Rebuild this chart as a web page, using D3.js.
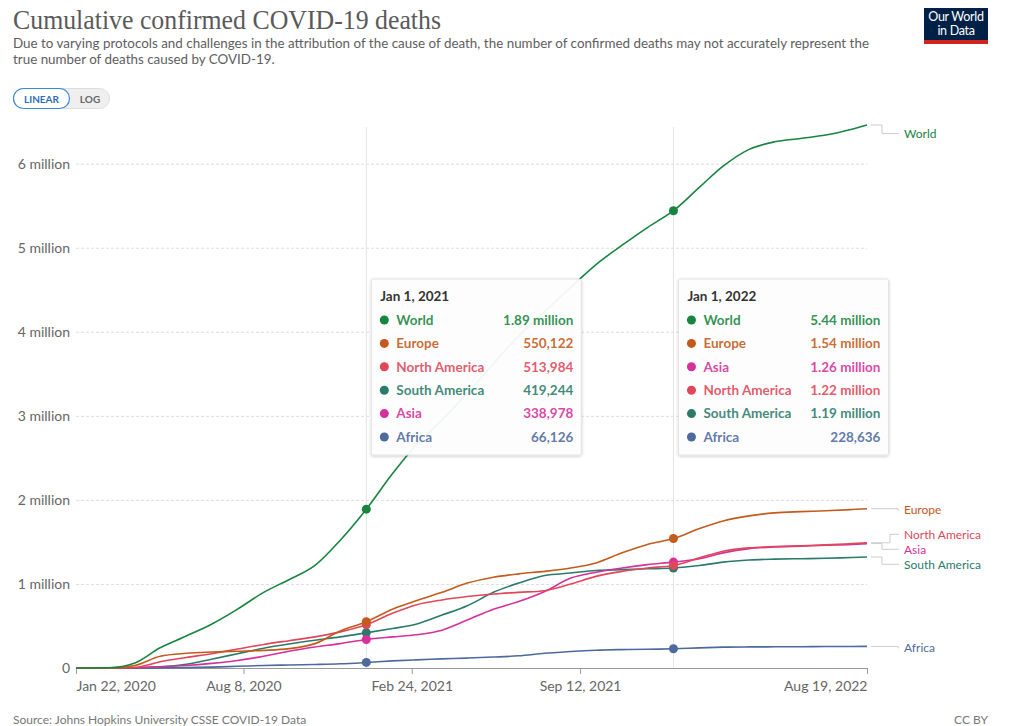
<!DOCTYPE html>
<html>
<head>
<meta charset="utf-8">
<script src="https://cdn.jsdelivr.net/npm/d3@7"></script>
<style>
  html, body { margin: 0; padding: 0; background: #fff; }
  svg { display: block; font-family: Lato, "Noto Sans", sans-serif; }
</style>
</head>
<body>
<script>
// ---------------- DATA ----------------
const dates = ["2020-01-22","2020-02-01","2020-03-01","2020-04-01","2020-05-01","2020-06-01","2020-07-01","2020-08-01","2020-09-01","2020-10-01","2020-11-01","2020-12-01",
  "2021-01-01","2021-02-01","2021-03-01","2021-04-01","2021-05-01","2021-06-01","2021-07-01","2021-08-01","2021-09-01","2021-10-01","2021-11-01","2021-12-01",
  "2022-01-01","2022-02-01","2022-03-01","2022-04-01","2022-05-01","2022-06-01","2022-07-01","2022-08-01","2022-08-19"];

const world = [17,260,3000,60000,240000,380000,520000,700000,900000,1050000,1220000,1520000,
  1890000,2310000,2650000,2950000,3270000,3620000,3950000,4240000,4530000,4800000,5030000,5240000,
  5440000,5720000,5970000,6170000,6260000,6300000,6340000,6410000,6460000];
const europe = [0,0,30,30000,140000,175000,190000,200000,210000,230000,290000,440000,
  550122,700000,800000,900000,1010000,1080000,1120000,1150000,1190000,1250000,1370000,1470000,
  1540000,1660000,1750000,1810000,1845000,1860000,1870000,1885000,1895000];
const northAmerica = [0,0,1,6000,75000,125000,170000,225000,280000,325000,370000,430000,
  513984,650000,750000,810000,850000,880000,900000,920000,1000000,1090000,1150000,1190000,
  1220000,1310000,1390000,1430000,1445000,1455000,1465000,1480000,1490000];
const southAmerica = [0,0,0,500,10000,45000,105000,170000,235000,285000,330000,370000,
  419244,470000,520000,630000,740000,900000,1010000,1100000,1130000,1160000,1170000,1180000,
  1190000,1220000,1260000,1285000,1295000,1300000,1305000,1315000,1320000];
const asia = [17,260,2900,5000,15000,30000,55000,90000,140000,200000,250000,290000,
  338978,370000,395000,450000,570000,700000,790000,910000,1070000,1140000,1190000,1230000,
  1260000,1300000,1370000,1420000,1440000,1450000,1460000,1470000,1480000];
const africa = [0,0,0,200,1800,4600,10000,20000,30000,36000,42000,50000,
  66126,85000,97000,108000,118000,130000,145000,175000,197000,212000,219000,223000,
  228636,240000,248000,251000,252000,253000,255000,256000,257000];

const seriesNames = ["World","Europe","North America","South America","Asia","Africa"];
const seriesValues = [world, europe, northAmerica, southAmerica, asia, africa];
const seriesColors = ["#17853f","#c45a1b","#e0475a","#2b7b6b","#d6309a","#4d6a9d"];

const xTickDates = ["2020-01-22","2020-08-08","2021-02-24","2021-09-12","2022-08-19"];
const yTicks = [0,1000000,2000000,3000000,4000000,5000000,6000000];
const highlightDates = ["2021-01-01","2022-01-01"];

const titleText = "Cumulative confirmed COVID-19 deaths";
const subtitleLines = ["Due to varying protocols and challenges in the attribution of the cause of death, the number of confirmed deaths may not accurately represent the",
  "true number of deaths caused by COVID-19."];
const sourceText = "Source: Johns Hopkins University CSSE COVID-19 Data";

// ---------------- SETUP ----------------
const parse = d3.utcParse("%Y-%m-%d");
const fmtDate = d3.utcFormat("%b %-d, %Y");
const W = 1024, H = 726;
const svg = d3.select("body").append("svg").attr("width", W).attr("height", H);

const defs = svg.append("defs");
const f = defs.append("filter").attr("id","shadow").attr("x","-10%").attr("y","-10%").attr("width","120%").attr("height","125%");
f.append("feDropShadow").attr("dx",0).attr("dy",1).attr("stdDeviation",1.5).attr("flood-color","#000").attr("flood-opacity",0.22);

const x = d3.scaleUtc().domain([parse(dates[0]), parse(dates[dates.length-1])]).range([76, 867]);
const y = d3.scaleLinear().domain([0, d3.max(world)]).range([668, 125]);

const series = seriesNames.map((name, i) => ({
  name, color: seriesColors[i],
  values: dates.map((d, j) => ({date: parse(d), value: seriesValues[i][j]}))
}));

// ---------------- HEADER ----------------
svg.append("text").attr("x", 13).attr("y", 29).text(titleText)
  .attr("font-family", "'Liberation Serif', 'DejaVu Serif', serif")
  .attr("font-size", 27).attr("fill", "#5a5a5a")
  .attr("textLength", 428).attr("lengthAdjust", "spacingAndGlyphs");

subtitleLines.forEach((t, i) => {
  const st = svg.append("text").attr("x", 13).attr("y", 48 + i * 16).text(t)
    .attr("font-size", 13.4).attr("fill", "#5e5e5e");
  if (i === 0) st.attr("textLength", 856).attr("lengthAdjust", "spacing");
});

// logo
const logo = svg.append("g");
logo.append("rect").attr("x", 924).attr("y", 8).attr("width", 64).attr("height", 36).attr("fill", "#002147");
logo.append("rect").attr("x", 924).attr("y", 40).attr("width", 64).attr("height", 4).attr("fill", "#ce261e");
logo.append("text").attr("x", 956).attr("y", 21).attr("text-anchor", "middle").attr("fill", "#fff").attr("font-size", 12.5).attr("letter-spacing", -0.3).text("Our World");
logo.append("text").attr("x", 956).attr("y", 35).attr("text-anchor", "middle").attr("fill", "#fff").attr("font-size", 12.5).attr("letter-spacing", -0.3).text("in Data");

// linear / log toggle
const tg = svg.append("g");
tg.append("rect").attr("x", 13.5).attr("y", 88.5).attr("width", 96).attr("height", 20).attr("rx", 10)
  .attr("fill", "#efefef").attr("stroke", "#ddd");
tg.append("rect").attr("x", 13.5).attr("y", 88.5).attr("width", 56).attr("height", 20).attr("rx", 10)
  .attr("fill", "#fff").attr("stroke", "#3a8ad8").attr("stroke-width", 1.2);
tg.append("text").attr("x", 41.5).attr("y", 102.5).attr("text-anchor", "middle").attr("font-size", 10)
  .attr("font-weight", 700).attr("fill", "#2f6db5").text("LINEAR");
tg.append("text").attr("x", 90).attr("y", 102.5).attr("text-anchor", "middle").attr("font-size", 10)
  .attr("font-weight", 700).attr("fill", "#666").text("LOG");

// ---------------- AXES ----------------
const yAxis = d3.axisLeft(y).tickValues(yTicks)
  .tickFormat(d => d === 0 ? "0" : (d / 1e6) + " million")
  .tickSize(-(867 - 76)).tickPadding(6);
const yg = svg.append("g").attr("transform", "translate(76,0)").call(yAxis);
yg.select(".domain").remove();
yg.selectAll(".tick line").attr("stroke", "#ddd").attr("stroke-dasharray", "3,2")
  .filter(d => d === 0).remove();
yg.selectAll(".tick text").attr("font-size", 14).attr("fill", "#666").attr("font-family", "Lato");

// hover vertical lines
svg.selectAll(".vline").data(highlightDates).enter().append("line")
  .attr("x1", d => x(parse(d))).attr("x2", d => x(parse(d)))
  .attr("y1", 127).attr("y2", 668).attr("stroke", "#e3e3e3").attr("stroke-width", 1);

const xAxis = d3.axisBottom(x).tickValues(xTickDates.map(parse)).tickFormat(fmtDate).tickSize(6).tickPadding(7);
const xg = svg.append("g").attr("transform", "translate(0,668)").call(xAxis);
xg.select(".domain").attr("stroke", "#999").attr("d", "M76,0.5H867");
xg.selectAll(".tick line").attr("stroke", "#999");
xg.selectAll(".tick text").attr("font-size", 14).attr("fill", "#666").attr("font-family", "Lato")
  .attr("text-anchor", (d, i, n) => i === 0 ? "start" : (i === n.length - 1 ? "end" : "middle"));

// ---------------- LINES ----------------
const line = d3.line().x(d => x(d.date)).y(d => y(d.value)).curve(d3.curveMonotoneX);
const drawOrder = ["Africa","South America","Asia","North America","Europe","World"];
svg.append("g").selectAll("path").data(drawOrder.map(n => series.find(s => s.name === n))).enter()
  .append("path").attr("d", s => line(s.values)).attr("fill", "none")
  .attr("stroke", s => s.color).attr("stroke-width", 1.6).attr("stroke-linejoin", "round");

// dots at highlighted dates
highlightDates.forEach(hd => {
  const dt = parse(hd);
  const idx = dates.indexOf(hd);
  svg.append("g").selectAll("circle").data(drawOrder.map(n => series.find(s => s.name === n))).enter()
    .append("circle").attr("cx", x(dt)).attr("cy", s => y(s.values[idx].value)).attr("r", 4.5)
    .attr("fill", s => s.color);
});

// ---------------- END LABELS ----------------
const ends = series.map(s => ({name: s.name, color: s.color, y0: y(s.values[s.values.length-1].value)}));
const minGap = 15, topLimit = 132;
ends.sort((a, b) => a.y0 - b.y0);
let clusters = ends.map(e => ({items: [e]}));
function place(c) { const n = c.items.length; const mean = d3.mean(c.items, e => e.y0); c.start = Math.max(topLimit, mean - (n - 1) * minGap / 2); }
clusters.forEach(place);
let merged = true;
while (merged) {
  merged = false;
  for (let i = 0; i < clusters.length - 1; i++) {
    const a = clusters[i], b = clusters[i+1];
    if (a.start + a.items.length * minGap > b.start) {
      a.items = a.items.concat(b.items); place(a); clusters.splice(i+1, 1); merged = true; break;
    }
  }
}
clusters.forEach(c => c.items.forEach((e, k) => e.ly = c.start + k * minGap + 1.5));

const lg = svg.append("g");
ends.forEach(e => {
  const xm = Math.abs(e.ly - e.y0) < 2 ? 898 : (e.ly < e.y0 ? 890 : 882);
  lg.append("path").attr("d", `M871,${e.y0}H${xm}V${e.ly}H899`).attr("fill", "none")
    .attr("stroke", "#ccc").attr("stroke-width", 1);
  lg.append("text").attr("x", 904).attr("y", e.ly).attr("dy", "0.35em").attr("font-size", 12)
    .attr("fill", e.color).text(e.name);
});

// ---------------- TOOLTIPS ----------------
const fmtVal = v => v >= 1e6 ? (v / 1e6).toFixed(2) + " million" : d3.format(",")(v);
highlightDates.forEach(hd => {
  const dt = parse(hd), idx = dates.indexOf(hd);
  const bx = x(dt) + 5, by = 279, bw = 210, bh = 176;
  const g = svg.append("g");
  g.append("rect").attr("x", bx).attr("y", by).attr("width", bw).attr("height", bh).attr("rx", 2)
    .attr("fill", "#fff").attr("fill-opacity", 0.92).attr("stroke", "#e2e2e2").attr("filter", "url(#shadow)");
  g.append("text").attr("x", bx + 9).attr("y", by + 22).attr("font-size", 13.5).attr("font-weight", 700)
    .attr("fill", "#333").text(fmtDate(dt));
  const rows = series.map(s => ({name: s.name, color: s.color, v: s.values[idx].value}))
    .sort((a, b) => b.v - a.v);
  rows.forEach((r, k) => {
    const ry = by + 41 + k * 23.4;
    g.append("circle").attr("cx", bx + 13).attr("cy", ry).attr("r", 4.5).attr("fill", r.color);
    g.append("text").attr("x", bx + 25).attr("y", ry).attr("dy", "0.36em").attr("font-size", 13.5)
      .attr("font-weight", 700).attr("fill", r.color).attr("fill-opacity", 0.9).text(r.name);
    g.append("text").attr("x", bx + bw - 8).attr("y", ry).attr("dy", "0.36em").attr("font-size", 13.5)
      .attr("font-weight", 700).attr("text-anchor", "end").attr("fill", r.color).attr("fill-opacity", 0.9).text(fmtVal(r.v));
  });
});

// ---------------- FOOTER ----------------
svg.append("text").attr("x", 13).attr("y", 724).attr("font-size", 12).attr("fill", "#777").text(sourceText);
svg.append("text").attr("x", 988).attr("y", 724).attr("font-size", 12).attr("fill", "#777").attr("text-anchor", "end").text("CC BY");
</script>
</body>
</html>
